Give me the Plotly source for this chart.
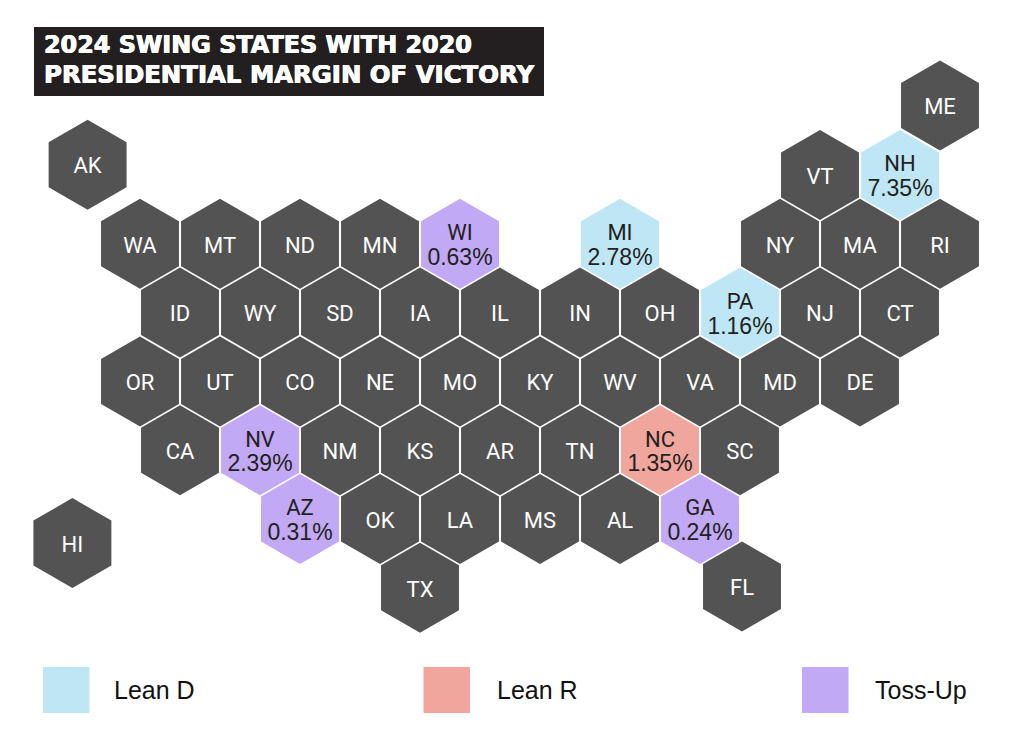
import plotly.graph_objects as go

# States with their slot on the hex grid (half-hex columns, rows)
states = ['AK', 'ME', 'VT', 'NH',
          'WA', 'MT', 'ND', 'MN', 'WI', 'MI', 'NY', 'MA', 'RI',
          'ID', 'WY', 'SD', 'IA', 'IL', 'IN', 'OH', 'PA', 'NJ', 'CT',
          'OR', 'UT', 'CO', 'NE', 'MO', 'KY', 'WV', 'VA', 'MD', 'DE',
          'CA', 'NV', 'NM', 'KS', 'AR', 'TN', 'NC', 'SC',
          'AZ', 'OK', 'LA', 'MS', 'AL', 'GA', 'HI',
          'TX', 'FL']
cols = [0.69, 22, 19, 21,
        2, 4, 6, 8, 10, 14, 18, 20, 22,
        3, 5, 7, 9, 11, 13, 15, 17, 19, 21,
        2, 4, 6, 8, 10, 12, 14, 16, 18, 20,
        3, 5, 7, 9, 11, 13, 15, 17,
        6, 8, 10, 12, 14, 16, 0.31,
        9, 17.05]
rows = [-0.15, -1.01, 0, 0,
        1, 1, 1, 1, 1, 1, 1, 1, 1,
        2, 2, 2, 2, 2, 2, 2, 2, 2, 2,
        3, 3, 3, 3, 3, 3, 3, 3, 3, 3,
        4, 4, 4, 4, 4, 4, 4, 4,
        5, 5, 5, 5, 5, 5, 5.35,
        6, 5.98]

# 2020 margin and 2024 rating for the swing states
margins = {'WI': '0.63%', 'MI': '2.78%', 'NH': '7.35%', 'PA': '1.16%', 'NV': '2.39%',
           'NC': '1.35%', 'AZ': '0.31%', 'GA': '0.24%'}
ratings = {'WI': 'Toss-Up', 'MI': 'Lean D', 'NH': 'Lean D', 'PA': 'Lean D', 'NV': 'Toss-Up',
           'NC': 'Lean R', 'AZ': 'Toss-Up', 'GA': 'Toss-Up'}

legend_labels = ['Lean D', 'Lean R', 'Toss-Up']
title_lines = ['2024 SWING STATES WITH 2020', 'PRESIDENTIAL MARGIN OF VICTORY']

colors = {'Lean D': '#bee6f5', 'Lean R': '#f0a69c', 'Toss-Up': '#c1a9f5', 'Other': '#535353'}
W, H = 1024, 755
FONT = 'Liberation Sans'
TEXT_DROP = 4 / 68.8  # labels sit about 4px under the hex centre


def hex_label(state):
    # base font size sets the line spacing, the spans set the real glyph size
    label = f"<span style=\"font-family:Roboto;font-size:22px\">{state}</span>"
    if state in margins:
        label += f"<br><span style=\"font-family:'Liberation Sans';font-size:23px\">{margins[state]}</span>"
    return label


fig = go.Figure()

for group in ['Other'] + legend_labels:
    idx = [i for i, s in enumerate(states) if ratings.get(s, 'Other') == group]
    fig.add_trace(go.Scatter(
        x=[cols[i] for i in idx],
        y=[rows[i] for i in idx],
        mode='markers',
        marker=dict(symbol='hexagon', size=90, color=colors[group], line=dict(width=0)),
        hoverinfo='skip',
        showlegend=False,
    ))
    fig.add_trace(go.Scatter(
        x=[cols[i] for i in idx],
        y=[rows[i] + TEXT_DROP for i in idx],
        mode='text',
        text=[hex_label(states[i]) for i in idx],
        textposition='middle center',
        textfont=dict(family=FONT, size=19, color='white' if group == 'Other' else '#231f20'),
        hoverinfo='skip',
        showlegend=False,
    ))

# Title box
fig.add_shape(type='rect', xref='paper', yref='paper', x0=34 / W, x1=544 / W, y0=1 - 96 / H, y1=1 - 27 / H,
              fillcolor='#231f20', line=dict(width=0))
for line, ypos, fsize in zip(title_lines, [44.5, 74.5], [23.9, 24.4]):
    fig.add_annotation(text=line, xref='paper', yref='paper', x=42 / W, y=1 - ypos / H,
                       xanchor='left', yanchor='middle', showarrow=False,
                       font=dict(family='DejaVu Sans', size=fsize, color='white', weight='bold',
                                 shadow='0.5px 0 0 white, -0.5px 0 0 white'))

# Legend
for label, sx, tx in zip(legend_labels, [43, 423.5, 802], [112, 495, 873]):
    fig.add_shape(type='rect', xref='paper', yref='paper', x0=sx / W, x1=(sx + 46.5) / W,
                  y0=1 - 713 / H, y1=1 - 667 / H, fillcolor=colors[label], line=dict(width=0))
    fig.add_annotation(text=label, xref='paper', yref='paper', x=tx / W, y=1 - 690 / H,
                       xanchor='left', yanchor='middle', showarrow=False,
                       font=dict(family=FONT, size=25, color='#111111'))

fig.update_xaxes(range=[-1.5, 24.1], visible=False, fixedrange=True)
fig.update_yaxes(range=[8.43, -2.5436], visible=False, fixedrange=True)
fig.update_layout(width=W, height=H, margin=dict(l=0, r=0, t=0, b=0),
                  paper_bgcolor='white', plot_bgcolor='white')

fig.write_html("out.html", config={'displayModeBar': False},
               post_script="document.body.style.margin='0';")
